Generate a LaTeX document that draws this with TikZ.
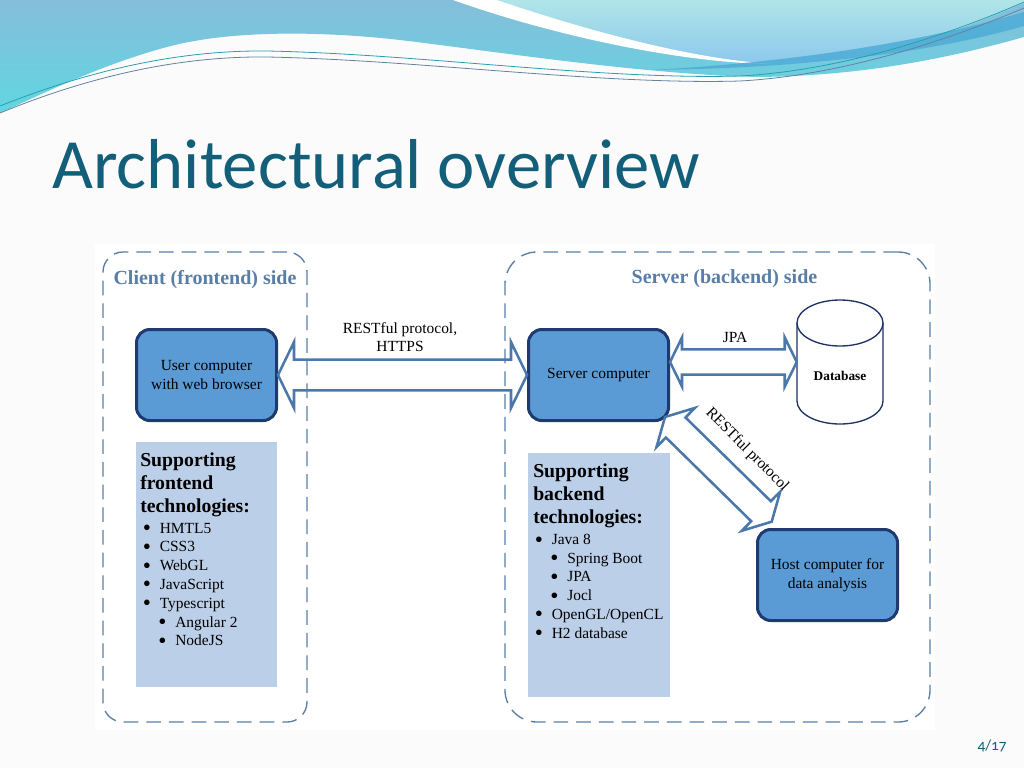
\documentclass[tikz,border=0pt]{standalone}
\usepackage{fontspec}
\usepackage{graphicx}
\setmainfont{Liberation Serif}
\newfontfamily\titlefont{Carlito}
\usetikzlibrary{calc}
\definecolor{pagebg}{RGB}{251,251,252}
\definecolor{titlec}{RGB}{19,94,120}
\definecolor{dashc}{RGB}{88,126,168}
\definecolor{boxfill}{RGB}{91,155,213}
\definecolor{boxline}{RGB}{30,58,112}
\definecolor{arrc}{RGB}{74,120,170}
\definecolor{suppfill}{RGB}{187,207,232}
\definecolor{dbc}{RGB}{30,50,100}
\definecolor{waveTop}{RGB}{133,190,218}
\definecolor{waveBot}{RGB}{96,214,226}
\definecolor{lightTop}{RGB}{176,229,232}
\definecolor{lightBot}{RGB}{140,200,236}
\definecolor{ribbon}{RGB}{78,172,214}
\definecolor{lineA}{RGB}{40,160,170}
\definecolor{lineB}{RGB}{100,130,160}
\newcommand\hollowarrow[5]{%
  \path let \p1=($(#2)-(#1)$) in \pgfextra{%
    \pgfmathsetmacro\myArrAng{atan2(\y1,\x1)}%
    \pgfmathsetmacro\myArrLen{veclen(\x1,\y1)}%
    \global\let\myArrAngG\myArrAng
    \global\let\myArrLenG\myArrLen};
  \begin{scope}[shift={(#1)}, rotate=\myArrAngG]
    \draw[dblarrow] (0pt,0pt) -- (#5pt,#4pt) -- (#5pt,#3pt)
      -- ({\myArrLenG pt-#5pt},#3pt) -- ({\myArrLenG pt-#5pt},#4pt)
      -- ({\myArrLenG pt},0pt) -- ({\myArrLenG pt-#5pt},-#4pt)
      -- ({\myArrLenG pt-#5pt},-#3pt) -- (#5pt,-#3pt) -- (#5pt,-#4pt) -- cycle;
  \end{scope}}
\newcommand\bul{\makebox[12.75pt][l]{\raisebox{-1.9pt}{\scalebox{1.5}{\textbullet}}}}
\begin{document}
\begin{tikzpicture}[x=0.75pt,y=-0.75pt,
  sidebox/.style={draw=dashc, line width=1pt, dash pattern=on 11pt off 6pt,
    minimum height=352.5pt, inner sep=0pt},
  sidettl/.style={text=dashc, font=\bfseries\fontsize{15}{18}\selectfont, inner sep=0pt},
  comp/.style={draw=boxline, fill=boxfill, line width=2.25pt, rounded corners=10pt,
    minimum width=105pt, minimum height=68.25pt, align=center,
    font=\fontsize{11.6}{13.9}\selectfont, inner sep=0pt},
  supbox/.style={fill=suppfill, inner sep=0pt},
  suptitle/.style={font=\bfseries\fontsize{14.8}{17}\selectfont, inner sep=0pt, anchor=base west},
  supitem/.style={font=\fontsize{11.6}{14}\selectfont, inner sep=0pt, anchor=base west},
  lbl/.style={font=\fontsize{11.6}{13.9}\selectfont, inner sep=0pt},
  dblarrow/.style={draw=arrc, line width=1.9pt, line join=miter},
  dbline/.style={draw=dbc, line width=1pt, fill=white}]
\useasboundingbox (0,0) rectangle (1024,768);
% background
\fill[pagebg] (0,0) rectangle (1024,768);
% top decoration
\shade[top color=waveTop, bottom color=waveBot]
  (0,0) -- (1024,0) -- (1024,37) .. controls (960,55) and (870,76) .. (757,77)
  .. controls (640,74) and (500,52) .. (400,40)
  .. controls (320,31) and (230,30) .. (167,47)
  .. controls (100,65) and (40,95) .. (0,113) -- cycle;
\shade[top color=lightTop, bottom color=lightBot]
  (497,0) -- (1024,0) -- (1024,3) .. controls (960,30) and (880,62) .. (790,64)
  .. controls (700,62) and (600,35) .. (497,0) -- cycle;
\fill[white] (453,0) -- (497,0) .. controls (600,35) and (700,60) .. (775,64)
  .. controls (690,64) and (560,38) .. (453,0) -- cycle;
\fill[ribbon, opacity=0.85] (650,70) .. controls (800,62) and (930,40) .. (1024,12)
  -- (1024,26) .. controls (940,50) and (820,68) .. (650,70) -- cycle;
\draw[lineA, line width=0.6pt] (0,106) .. controls (90,70) and (180,50) .. (267,51)
  .. controls (420,54) and (600,80) .. (740,76) .. controls (850,70) and (960,30) .. (1024,2);
\draw[lineB, line width=0.6pt] (0,113) .. controls (90,76) and (180,56) .. (267,57)
  .. controls (420,60) and (600,85) .. (740,81) .. controls (850,75) and (960,35) .. (1024,8);
% title and page number
\node[anchor=base west, inner sep=0pt, text=titlec, font=\titlefont\fontsize{53}{60}\selectfont]
  (title) at (52,188) {Architectural overview};
\node[anchor=base east, inner sep=0pt, text=titlec, font=\titlefont\fontsize{11.5}{13}\selectfont]
  (pnum) at (1007,750) {\addfontfeatures{Numbers=OldStyle}4/17};
% diagram area
\fill[white] (95,244) rectangle (935,730);
\node[sidebox, minimum width=153pt, rounded corners=15pt] (client) at (205,487) {};
\node[sidebox, minimum width=318.75pt, rounded corners=24pt] (serverside) at (717.5,487) {};
\node[sidettl, anchor=base] (clientttl) at (205,284) {Client (frontend) side};
\node[sidettl, anchor=base] (serverttl) at (724.5,283.5) {Server (backend) side};
% supporting boxes
\node[supbox, minimum width=105.75pt, minimum height=183.75pt] (fe) at (206.5,564.5) {};
\node[supbox, minimum width=106.5pt, minimum height=183pt] (be) at (599,575) {};
\foreach \t [count=\i] in {Supporting, frontend, technologies:}
  \node[suptitle] (fet\i) at (140,{466+23*(\i-1)}) {\t};
\foreach \t/\ind [count=\i] in {HMTL5/0, CSS3/0, WebGL/0, JavaScript/0, Typescript/0, Angular 2/1, NodeJS/1}
  \node[supitem] (fei\i) at ({142.5+15.5*\ind},{533+18.8*(\i-1)}) {\bul\t};
\foreach \t [count=\i] in {Supporting, backend, technologies:}
  \node[suptitle] (bet\i) at (533,{477+23*(\i-1)}) {\t};
\foreach \t/\ind [count=\i] in {Java 8/0, Spring Boot/1, JPA/1, Jocl/1, {OpenGL/OpenCL}/0, H2 database/0}
  \node[supitem] (bei\i) at ({534.5+15.5*\ind},{544.5+18.7*(\i-1)}) {\bul\t};
% computers
\node[comp] (user) at (206.5,375) {User computer\\with web browser};
\node[comp] (server) at (598.5,375) {Server computer};
\node[comp] (host) at (827.5,575) {Host computer for\\data analysis};
% database
\node[minimum width=64.5pt, minimum height=93pt, inner sep=0pt] (db) at (840,362) {};
\draw[dbline] (797,323) -- (797,401) .. controls (797,413.7) and (816.3,424) .. (840,424)
  .. controls (863.7,424) and (883,413.7) .. (883,401) -- (883,323);
\draw[dbline] (840,323) ellipse [x radius=43, y radius=23];
\node[font=\bfseries\fontsize{10}{12}\selectfont, inner sep=0pt] (dblabel) at (840,376) {Database};
% arrows
\coordinate (jpaL) at (server.east |- db.west);
\coordinate (d1) at ($(server.south east)+(-5,-5)$);
\coordinate (d2) at ($(host.north west)+(16,-6)$);
\hollowarrow{user.east}{server.west}{11.6}{24.75}{12}
\hollowarrow{jpaL}{db.west}{9.4}{18.4}{9}
\hollowarrow{d1}{d2}{10.5}{20.6}{11.25}
% labels
\node[lbl, align=center] (restlbl) at (400,337) {RESTful protocol,\\HTTPS};
\node[lbl] (jpalbl) at (735,337) {JPA};
\node[lbl, rotate=-45] (restdiag) at (747,450) {RESTful protocol};
\end{tikzpicture}
\end{document}
